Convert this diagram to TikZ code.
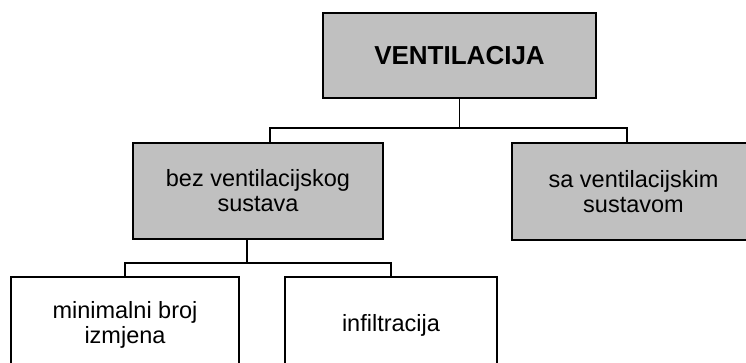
\documentclass[tikz,border=0pt]{standalone}
\usepackage{fontspec}
\setmainfont{Liberation Sans}
\definecolor{boxgray}{HTML}{C0C0C0}
\begin{document}
\begin{tikzpicture}[x=1pt,y=-1pt,
  box/.style={draw=black,line width=2pt,inner sep=0pt,align=center,
    font=\fontsize{23.5}{25}\selectfont},
  graybox/.style={box,fill=boxgray},
  whitebox/.style={box,fill=white},
  conn/.style={draw=black,line width=1.7pt}]
\useasboundingbox (0,0) rectangle (746,363);
\clip (0,0) rectangle (746,363);
\node[graybox,minimum width=273pt,minimum height=85pt,font=\fontsize{26}{30}\selectfont\bfseries] (top) at (459.5,55.5) {VENTILACIJA};
\node[graybox,minimum width=250pt,minimum height=96pt] (bez) at (258,191) {bez ventilacijskog\\sustava};
\node[graybox,minimum width=243pt,minimum height=97pt] (sa) at (633.5,191.5) {sa ventilacijskim\\sustavom};
\node[whitebox,minimum width=228pt,minimum height=96pt] (min) at (125,325) {minimalni broj\\izmjena};
\node[whitebox,minimum width=212pt,minimum height=96pt] (inf) at (391,325) {infiltracija};
\coordinate (h1) at (459.5,128);
\draw[conn] (top.south) -- (h1);
\draw[conn] ([xshift=12pt]bez.north) |- (h1) -| ([xshift=-6.5pt]sa.north);
\coordinate (h2) at (247,263);
\draw[conn] (bez.south -| h2) -- (h2);
\draw[conn] (min.north) |- (h2) -| (inf.north);
\end{tikzpicture}
\end{document}
